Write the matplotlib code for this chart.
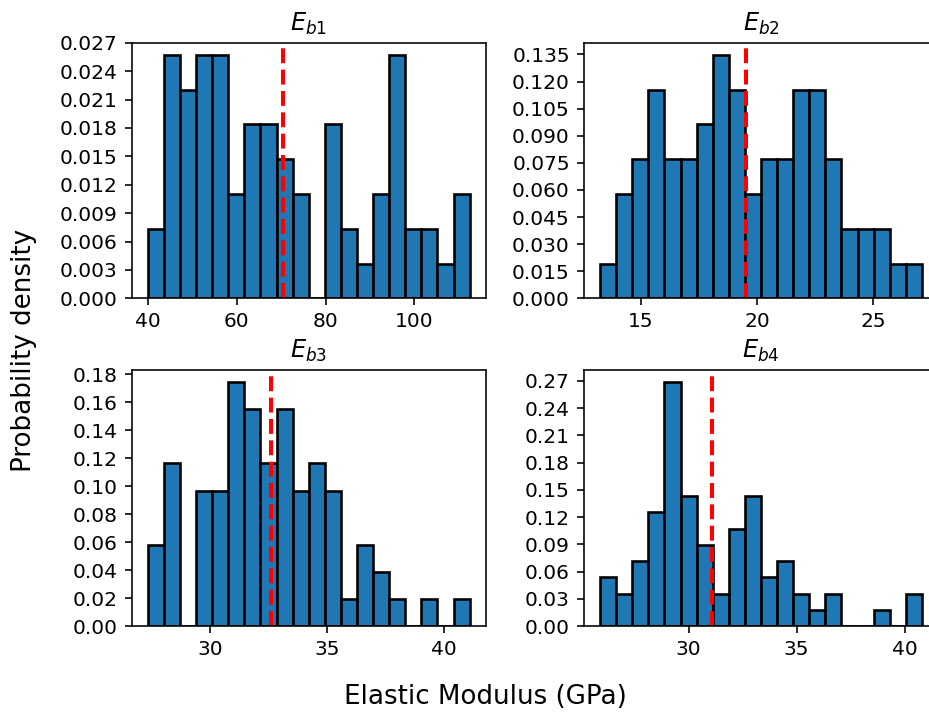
import matplotlib
matplotlib.use('Agg')
import matplotlib.pyplot as plt
import numpy as np

# counts per bin (20 bins each), bin range and sample mean for every parameter
titles = ['$E_{b1}$', '$E_{b2}$', '$E_{b3}$', '$E_{b4}$']

counts_b1 = [2, 7, 6, 7, 7, 3, 5, 5, 4, 3, 0, 5, 2, 1, 3, 7, 2, 2, 1, 3]
counts_b2 = [1, 3, 4, 6, 4, 4, 5, 7, 6, 3, 4, 4, 6, 6, 4, 2, 2, 2, 1, 1]
counts_b3 = [3, 6, 0, 5, 5, 9, 8, 6, 8, 5, 6, 5, 1, 3, 2, 1, 0, 1, 0, 1]
counts_b4 = [3, 2, 4, 7, 15, 8, 5, 2, 6, 8, 3, 4, 2, 1, 2, 0, 0, 1, 0, 2]

ranges = [(39.9, 112.5), (13.25, 27.1), (27.33, 41.1), (25.9, 40.8)]
means = [70.3, 19.55, 32.6, 31.1]
ytop = [0.027, 0.135, 0.18, 0.27]

all_counts = [counts_b1, counts_b2, counts_b3, counts_b4]

fig = plt.figure(figsize=(929 / 145, 713 / 145), dpi=145)
positions = [
    [0.1418, 0.5816, 0.3811, 0.3585],
    [0.6286, 0.5816, 0.3811, 0.3585],
    [0.1418, 0.1220, 0.3811, 0.3590],
    [0.6286, 0.1220, 0.3811, 0.3590],
]

for pos, cnt, rng, m, top, t in zip(positions, all_counts, ranges, means, ytop, titles):
    ax = fig.add_axes(pos)
    edges = np.linspace(rng[0], rng[1], len(cnt) + 1)
    centers = (edges[:-1] + edges[1:]) / 2
    ax.hist(centers, bins=edges, weights=cnt, density=True,
            color='#1f77b4', edgecolor='black', linewidth=1.3)
    ax.axvline(m, color='red', linestyle='--', linewidth=2)
    ax.set_yticks(np.linspace(0, top, 10))
    ax.set_title(t)

fig.text(0.026, 0.508, 'Probability density', rotation=90,
         ha='center', va='center', fontsize=13)
fig.text(0.522, 0.022, 'Elastic Modulus (GPa)', ha='center', va='center', fontsize=13)

plt.savefig('out.png', dpi=145)
plt.close()
